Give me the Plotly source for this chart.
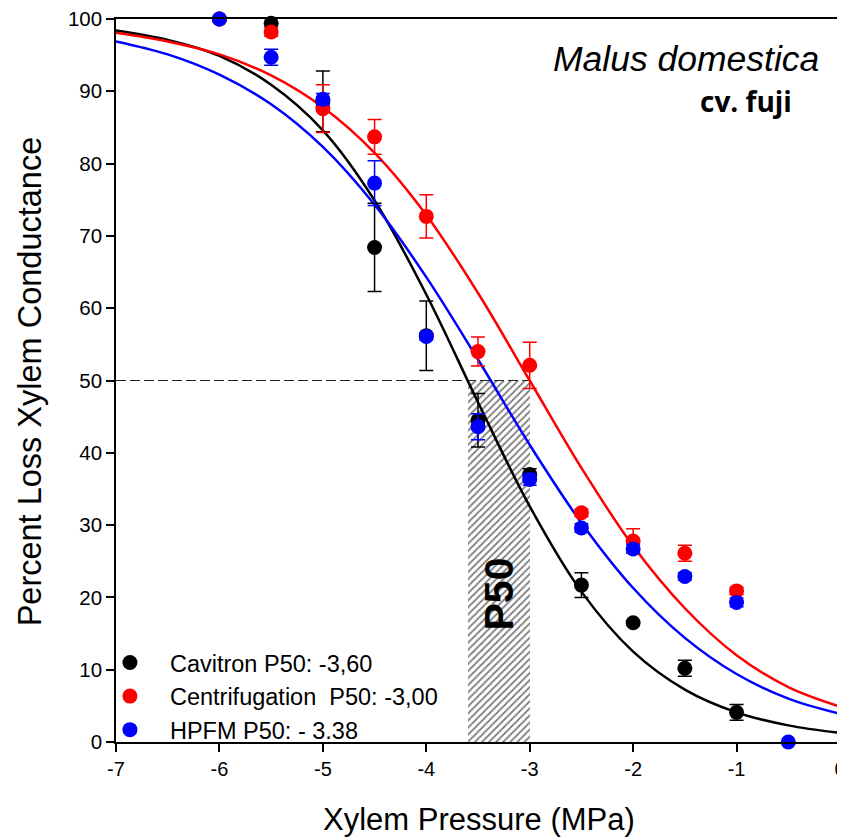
import plotly.graph_objects as go

# ---- measured data ----
pressure = [-6, -5.5, -5, -4.5, -4, -3.5, -3, -2.5, -2, -1.5, -1]
cavitron_plc = [100, 99.4, 88.6, 68.4, 56.2, 44.5, 37.0, 21.7, 16.5, 10.2, 4.1]
cavitron_err = [0, 0, 4.2, 6.1, 4.8, 3.7, 0.8, 1.7, 0, 1.1, 1.1]

centrif_plc = [100, 98.2, 87.6, 83.7, 72.7, 54.0, 52.1, 31.7, 27.8, 26.1, 20.9]
centrif_err = [0, 0.6, 3.3, 2.4, 3.0, 2.0, 3.2, 0.5, 1.7, 1.1, 0.5]

hpfm_pressure = [-6, -5.5, -5, -4.5, -4, -3.5, -3, -2.5, -2, -1.5, -1, -0.5]
hpfm_plc = [100, 94.7, 88.9, 77.3, 56.1, 43.6, 36.3, 29.6, 26.7, 22.9, 19.3, 0]
hpfm_err = [0, 1.1, 0.8, 3.1, 0.5, 1.8, 0.8, 0.6, 0.6, 0.5, 0.6, 0]

# ---- fitted curves ----
curve_p = [-7, -6.5, -6, -5.5, -5, -4.5, -4, -3.5, -3, -2.5, -2, -1.5, -1, -0.5, 0]
cavitron_fit = [98.4, 97.1, 94.9, 90.9, 84.6, 74.9, 61.9, 47.0, 32.6, 20.8, 12.5, 7.25, 4.1, 2.3, 1.25]
centrif_fit = [98.1, 96.9, 95.1, 92.2, 87.8, 81.5, 72.9, 62.1, 50.0, 37.9, 27.1, 18.5, 12.0, 7.6, 4.9]
hpfm_fit = [96.9, 95.1, 92.3, 88.2, 82.3, 74.3, 64.3, 52.9, 41.1, 30.3, 21.3, 14.4, 9.4, 6.0, 3.9]

# ---- P50 range ----
p50_range = [-3.6, -3.0]
p50_level = 50
x_min, x_max = -7, 0

x_ticks = [-7, -6, -5, -4, -3, -2, -1, 0]
x_ticklabels = ["-7", "-6", "-5", "-4", "-3", "-2", "-1", "0"]
y_ticks = [0, 10, 20, 30, 40, 50, 60, 70, 80, 90, 100]

legend_names = ["Cavitron P50: -3,60", "Centrifugation  P50: -3,00", "HPFM P50: - 3.38"]
colors = ["#000000", "#ff0000", "#0000ff"]

FONT = "Liberation Sans, Arial, sans-serif"

fig = go.Figure()

# hatched P50 band
fig.add_trace(go.Bar(
    x=[(p50_range[0] + p50_range[1]) / 2], y=[p50_level],
    width=[p50_range[1] - p50_range[0]],
    marker=dict(color="white", line=dict(width=0),
                pattern=dict(shape="/", fgcolor="black", bgcolor="white", size=5, solidity=0.35)),
    showlegend=False, hoverinfo="skip"))

# dashed 50% line
fig.add_trace(go.Scatter(
    x=[x_min, p50_range[1]], y=[p50_level, p50_level], mode="lines",
    line=dict(color="#222222", width=1.2, dash="10px,4px"),
    showlegend=False, hoverinfo="skip"))

# fitted curves
for fit, c in zip([cavitron_fit, centrif_fit, hpfm_fit], colors):
    fig.add_trace(go.Scatter(
        x=curve_p, y=fit, mode="lines",
        line=dict(color=c, width=2.5, shape="spline", smoothing=1.0),
        showlegend=False, hoverinfo="skip"))

# data points
for xs, ys, es, name, c in [
    (pressure, cavitron_plc, cavitron_err, legend_names[0], colors[0]),
    (pressure, centrif_plc, centrif_err, legend_names[1], colors[1]),
    (hpfm_pressure, hpfm_plc, hpfm_err, legend_names[2], colors[2]),
]:
    fig.add_trace(go.Scatter(
        x=xs, y=ys, mode="markers", name=name,
        marker=dict(color=c, size=15, symbol="circle", line=dict(width=0)),
        error_y=dict(type="data", array=es, visible=True, color=c, thickness=1.5, width=7),
        cliponaxis=False))

fig.add_annotation(x=-3.3, y=20.5, xref="x", yref="y", text="<b>P50</b>",
                   textangle=-90, showarrow=False,
                   font=dict(family=FONT, size=41, color="black"))

fig.add_annotation(x=0.9737, y=0.945, xref="paper", yref="paper", text="<i>Malus domestica</i>",
                   xanchor="right", yanchor="middle", showarrow=False,
                   font=dict(family=FONT, size=35.5, color="black"))
fig.add_annotation(x=0.9364, y=0.887, xref="paper", yref="paper", text="<b>cv. fuji</b>",
                   xanchor="right", yanchor="middle", showarrow=False,
                   font=dict(family="Open Sans, sans-serif", size=28, color="black"))

# axis titles
fig.add_annotation(x=0.5007, y=-0.107, xref="paper", yref="paper", text="Xylem Pressure (MPa)",
                   xanchor="center", yanchor="middle", showarrow=False,
                   font=dict(family=FONT, size=31, color="black"))
fig.add_annotation(x=-0.119, y=0.4986, xref="paper", yref="paper", text="Percent Loss Xylem Conductance",
                   textangle=-90, xanchor="center", yanchor="middle", showarrow=False,
                   font=dict(family=FONT, size=32.5, color="black"))

fig.update_layout(
    width=845, height=838,
    margin=dict(l=108, r=13, t=11, b=104, autoexpand=False),
    paper_bgcolor="white", plot_bgcolor="white",
    font=dict(family=FONT, color="black"),
    bargap=0,
    showlegend=True,
    legend=dict(x=-0.036, y=0.14, xanchor="left", yanchor="top",
                bgcolor="rgba(0,0,0,0)", font=dict(family=FONT, size=23.5),
                itemsizing="trace", itemwidth=70, tracegroupgap=0),
    xaxis=dict(range=[x_min, x_max], tickmode="array",
               tickvals=x_ticks, ticktext=x_ticklabels,
               ticks="outside", ticklen=8, tickwidth=1.5, tickcolor="black",
               showline=True, linecolor="black", linewidth=1.5, mirror=True,
               showgrid=False, zeroline=False, automargin=False,
               ticklabeloverflow="allow",
               tickfont=dict(family=FONT, size=20)),
    yaxis=dict(range=[0, 100], tickmode="array",
               tickvals=y_ticks,
               ticks="outside", ticklen=8, tickwidth=1.5, tickcolor="black",
               showline=True, linecolor="black", linewidth=1.5, mirror=True,
               showgrid=False, zeroline=False, automargin=False,
               ticklabeloverflow="allow",
               tickfont=dict(family=FONT, size=20.5)),
)

fig.write_html("out.html")
